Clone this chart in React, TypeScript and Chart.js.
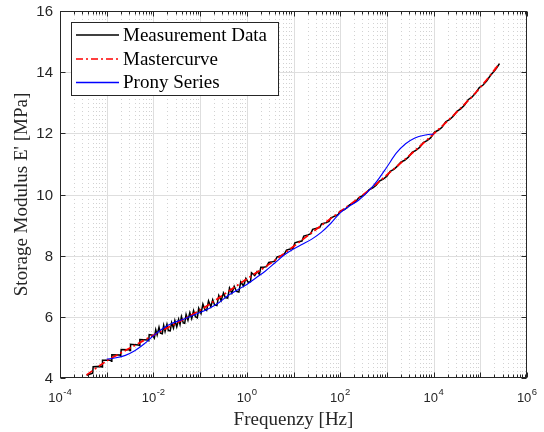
import React, { useEffect, useRef } from 'react';
import { Chart, registerables } from 'chart.js';

Chart.register(...registerables);

// ---- data (x = log10 of frequency in Hz, y = storage modulus in MPa) ----
const measurement: [number, number][] = [
  [-3.43, 4.09], [-3.30, 4.16], [-3.29, 4.37], [-3.12, 4.38], [-3.10, 4.36], [-3.09, 4.58],
  [-2.92, 4.58], [-2.90, 4.55], [-2.89, 4.76], [-2.72, 4.75], [-2.70, 4.72], [-2.69, 4.93],
  [-2.52, 4.92], [-2.50, 4.90], [-2.49, 5.10], [-2.32, 5.08], [-2.30, 5.06], [-2.29, 5.26],
  [-2.12, 5.24], [-2.10, 5.22], [-2.09, 5.42], [-2.02, 5.40], [-1.98, 5.30], [-1.95, 5.58],
  [-1.92, 5.41], [-1.88, 5.66], [-1.85, 5.47], [-1.81, 5.45], [-1.78, 5.72], [-1.75, 5.52],
  [-1.71, 5.76], [-1.68, 5.55], [-1.64, 5.54], [-1.61, 5.81], [-1.57, 5.63], [-1.54, 5.88],
  [-1.50, 5.67], [-1.46, 5.92], [-1.43, 5.75], [-1.40, 6.01], [-1.36, 5.80], [-1.33, 5.79],
  [-1.30, 6.08], [-1.26, 5.89], [-1.22, 6.14], [-1.18, 5.94], [-1.14, 6.20], [-1.10, 6.00],
  [-1.06, 5.97], [-1.03, 6.28], [-0.98, 6.11], [-0.94, 6.42], [-0.90, 6.25], [-0.86, 6.21],
  [-0.82, 6.52], [-0.77, 6.33], [-0.73, 6.56], [-0.69, 6.39], [-0.64, 6.37], [-0.60, 6.70],
  [-0.55, 6.53], [-0.50, 6.78], [-0.46, 6.63], [-0.41, 6.61], [-0.37, 6.94], [-0.32, 6.77],
  [-0.27, 7.00], [-0.22, 6.83], [-0.17, 6.81], [-0.13, 7.14], [-0.07, 7.01], [-0.02, 7.26],
  [0.03, 7.13], [0.08, 7.15], [0.10, 7.44], [0.17, 7.35], [0.22, 7.48], [0.27, 7.39],
  [0.30, 7.62], [0.36, 7.62], [0.42, 7.64], [0.47, 7.78], [0.55, 7.80], [0.60, 7.82],
  [0.65, 7.96], [0.74, 8.00], [0.80, 8.04], [0.85, 8.18], [0.93, 8.22], [0.99, 8.24],
  [1.03, 8.42], [1.12, 8.46], [1.18, 8.48], [1.22, 8.64], [1.31, 8.68], [1.37, 8.72],
  [1.41, 8.86], [1.50, 8.90], [1.56, 8.92], [1.60, 9.04], [1.70, 9.08], [1.76, 9.12],
  [1.80, 9.24], [1.90, 9.30], [1.96, 9.35], [2.00, 9.46], [2.08, 9.50], [2.14, 9.56],
  [2.20, 9.66], [2.28, 9.72], [2.34, 9.78], [2.40, 9.90], [2.48, 9.96], [2.55, 10.04],
  [2.62, 10.16], [2.70, 10.22], [2.77, 10.30], [2.84, 10.44], [2.92, 10.50], [3.00, 10.60],
  [3.07, 10.76], [3.15, 10.82], [3.22, 10.92], [3.30, 11.06], [3.38, 11.12], [3.46, 11.22],
  [3.54, 11.38], [3.62, 11.44], [3.70, 11.54], [3.78, 11.70], [3.86, 11.76], [3.94, 11.86],
  [4.02, 12.04], [4.10, 12.10], [4.18, 12.20], [4.26, 12.38], [4.34, 12.45], [4.42, 12.56],
  [4.50, 12.72], [4.58, 12.80], [4.66, 12.92], [4.74, 13.10], [4.82, 13.18], [4.90, 13.32],
  [4.98, 13.50], [5.06, 13.58], [5.14, 13.72], [5.22, 13.90], [5.30, 14.04], [5.36, 14.16],
  [5.41, 14.28],
];

const mastercurve: [number, number][] = [
  [-3.43, 4.10], [-3.2, 4.35], [-3.0, 4.56], [-2.5, 4.98], [-2.0, 5.40], [-1.5, 5.80],
  [-1.0, 6.22], [-0.5, 6.72], [0, 7.24], [0.5, 7.74], [1.0, 8.30], [1.5, 8.88],
  [2.0, 9.44], [2.5, 10.0], [3.0, 10.64], [3.5, 11.30], [4.0, 11.98], [4.5, 12.70],
  [5.0, 13.50], [5.41, 14.28],
];

const prony: [number, number][] = [
  [-3.0, 4.62], [-2.8, 4.66], [-2.6, 4.74], [-2.4, 4.89], [-2.2, 5.11], [-2.0, 5.38],
  [-1.8, 5.62], [-1.6, 5.79], [-1.4, 5.90], [-1.2, 6.02], [-1.0, 6.14], [-0.8, 6.28],
  [-0.6, 6.46], [-0.4, 6.70], [-0.2, 6.88], [0, 7.06], [0.2, 7.28], [0.4, 7.50],
  [0.6, 7.76], [0.8, 8.02], [1.0, 8.22], [1.2, 8.38], [1.4, 8.55], [1.6, 8.77],
  [1.8, 9.06], [2.0, 9.40], [2.2, 9.62], [2.4, 9.82], [2.6, 10.10], [2.8, 10.46],
  [3.0, 10.90], [3.2, 11.35], [3.4, 11.66], [3.6, 11.85], [3.8, 11.94], [4.0, 11.98],
];

const seriesNames = ['Measurement Data', 'Mastercurve', 'Prony Series'];
const seriesColors = ['#000000', '#ff0000', '#0000ff'];
const yTicks = [4, 6, 8, 10, 12, 14, 16];
const xTickExps = [-4, -2, 0, 2, 4, 6];
const xTitle = 'Frequenzy [Hz]';
const yTitle = "Storage Modulus E' [MPa]";

const DASHDOT = [7, 3, 2, 3];
const AXIS = '#262626';
const SERIF = '"Liberation Serif", "Times New Roman", serif';
const SANS = '"Liberation Sans", Arial, sans-serif';

const toXY = (pts: [number, number][]) => pts.map(([lf, e]) => ({ x: Math.pow(10, lf), y: e }));

const axesPlugin = {
  id: 'matlabAxes',
  beforeDatasetsDraw(chart: any) {
    const { ctx, chartArea: a, scales } = chart;
    const x = scales.x, y = scales.y;
    ctx.save();
    // minor x grid (dotted)
    ctx.strokeStyle = '#d2d2d2';
    ctx.lineWidth = 1;
    ctx.setLineDash([1, 3]);
    for (let d = -4; d < 6; d++) {
      for (let k = 2; k <= 9; k++) {
        const px = Math.round(x.getPixelForValue(k * Math.pow(10, d))) + 0.5;
        ctx.beginPath();
        ctx.moveTo(px, a.top);
        ctx.lineTo(px, a.bottom);
        ctx.stroke();
      }
    }
    ctx.setLineDash([]);
    ctx.strokeStyle = '#dedede';
    for (let d = -3; d < 6; d++) {
      const px = Math.round(x.getPixelForValue(Math.pow(10, d))) + 0.5;
      ctx.beginPath();
      ctx.moveTo(px, a.top);
      ctx.lineTo(px, a.bottom);
      ctx.stroke();
    }
    for (const v of yTicks.slice(1, -1)) {
      const py = Math.round(y.getPixelForValue(v)) + 0.5;
      ctx.beginPath();
      ctx.moveTo(a.left, py);
      ctx.lineTo(a.right, py);
      ctx.stroke();
    }
    ctx.restore();
  },
  afterDatasetsDraw(chart: any) {
    const { ctx, chartArea: a, scales } = chart;
    const x = scales.x, y = scales.y;
    ctx.save();
    ctx.strokeStyle = AXIS;
    ctx.lineWidth = 1;
    const L = Math.round(a.left) + 0.5, R = Math.round(a.right) - 0.5;
    const T = Math.round(a.top) + 0.5, B = Math.round(a.bottom) - 0.5;
    ctx.strokeRect(L, T, R - L, B - T);
    // x ticks
    ctx.beginPath();
    for (let d = -4; d <= 6; d++) {
      for (let k = 1; k <= 9; k++) {
        if (d === 6 && k > 1) break;
        const px = Math.round(x.getPixelForValue(k * Math.pow(10, d))) + 0.5;
        const len = k === 1 ? 5 : 3;
        ctx.moveTo(px, B); ctx.lineTo(px, B - len);
        ctx.moveTo(px, T); ctx.lineTo(px, T + len);
      }
    }
    // y ticks
    for (const v of yTicks) {
      const py = Math.round(y.getPixelForValue(v)) + 0.5;
      ctx.moveTo(L, py); ctx.lineTo(L + 5, py);
      ctx.moveTo(R, py); ctx.lineTo(R - 5, py);
    }
    ctx.stroke();

    // y tick labels
    ctx.fillStyle = AXIS;
    ctx.font = '15px ' + SANS;
    ctx.textAlign = 'right';
    ctx.textBaseline = 'middle';
    for (const v of yTicks) {
      ctx.fillText(String(v), a.left - 7, y.getPixelForValue(v) + 1);
    }
    // x tick labels with superscript exponents
    ctx.textAlign = 'left';
    ctx.textBaseline = 'alphabetic';
    for (const e of xTickExps) {
      const px = x.getPixelForValue(Math.pow(10, e));
      ctx.font = '13px ' + SANS;
      const bw = ctx.measureText('10').width;
      ctx.font = '9.5px ' + SANS;
      const es = String(e);
      const ew = ctx.measureText(es).width;
      const start = px - (bw + 0.5 + ew) / 2;
      ctx.font = '13px ' + SANS;
      ctx.fillText('10', start, a.bottom + 24);
      ctx.font = '9.5px ' + SANS;
      ctx.fillText(es, start + bw + 0.5, a.bottom + 17);
    }

    // axis titles
    ctx.font = '19px ' + SERIF;
    ctx.textAlign = 'center';
    ctx.fillText(xTitle, (a.left + a.right) / 2, 425);
    ctx.save();
    ctx.translate(27, (a.top + a.bottom) / 2);
    ctx.rotate(-Math.PI / 2);
    ctx.fillText(yTitle, 0, 0);
    ctx.restore();

    // legend
    const bx = 71.5, by = 22.5, bw2 = 207, bh = 73;
    ctx.fillStyle = '#ffffff';
    ctx.fillRect(bx, by, bw2, bh);
    ctx.strokeStyle = AXIS;
    ctx.lineWidth = 1;
    ctx.strokeRect(bx, by, bw2, bh);
    const rows = [35, 59, 82.5];
    seriesNames.forEach((name, i) => {
      const ry = rows[i];
      ctx.strokeStyle = seriesColors[i];
      ctx.lineWidth = i === 1 ? 1.4 : 1.3;
      ctx.setLineDash(i === 1 ? DASHDOT : []);
      ctx.beginPath();
      ctx.moveTo(76, ry);
      ctx.lineTo(119, ry);
      ctx.stroke();
      ctx.setLineDash([]);
      ctx.fillStyle = '#000000';
      ctx.font = '19px ' + SERIF;
      ctx.textAlign = 'left';
      ctx.textBaseline = 'middle';
      ctx.fillText(name, 123, ry + 1);
    });
    ctx.restore();
  },
};

export default function App() {
  const ref = useRef<HTMLCanvasElement | null>(null);
  useEffect(() => {
    document.body.style.margin = '0';
    const canvas = ref.current;
    if (!canvas) return;
    const chart = new Chart(canvas, {
      type: 'line',
      data: {
        datasets: [
          {
            label: seriesNames[0],
            data: toXY(measurement),
            borderColor: seriesColors[0],
            borderWidth: 1.5,
            pointRadius: 0,
            tension: 0,
            order: 3,
          },
          {
            label: seriesNames[1],
            data: toXY(mastercurve),
            borderColor: seriesColors[1],
            borderWidth: 1.8,
            borderDash: DASHDOT,
            pointRadius: 0,
            cubicInterpolationMode: 'monotone',
            order: 2,
          },
          {
            label: seriesNames[2],
            data: toXY(prony),
            borderColor: seriesColors[2],
            borderWidth: 1.1,
            pointRadius: 0,
            cubicInterpolationMode: 'monotone',
            order: 1,
          },
        ],
      } as any,
      options: {
        animation: false,
        responsive: false,
        events: [],
        layout: { padding: { left: 60, top: 11, right: 17, bottom: 54 } },
        scales: {
          x: { type: 'logarithmic', min: 1e-4, max: 1e6, display: false },
          y: { type: 'linear', min: 4, max: 16, display: false },
        },
        plugins: { legend: { display: false }, tooltip: { enabled: false } },
      } as any,
      plugins: [axesPlugin],
    });
    return () => chart.destroy();
  }, []);
  return (
    <div style={{ position: 'absolute', left: 0, top: 0, width: 544, height: 432, background: '#fff' }}>
      <canvas ref={ref} width={544} height={432} style={{ display: 'block' }} />
    </div>
  );
}
